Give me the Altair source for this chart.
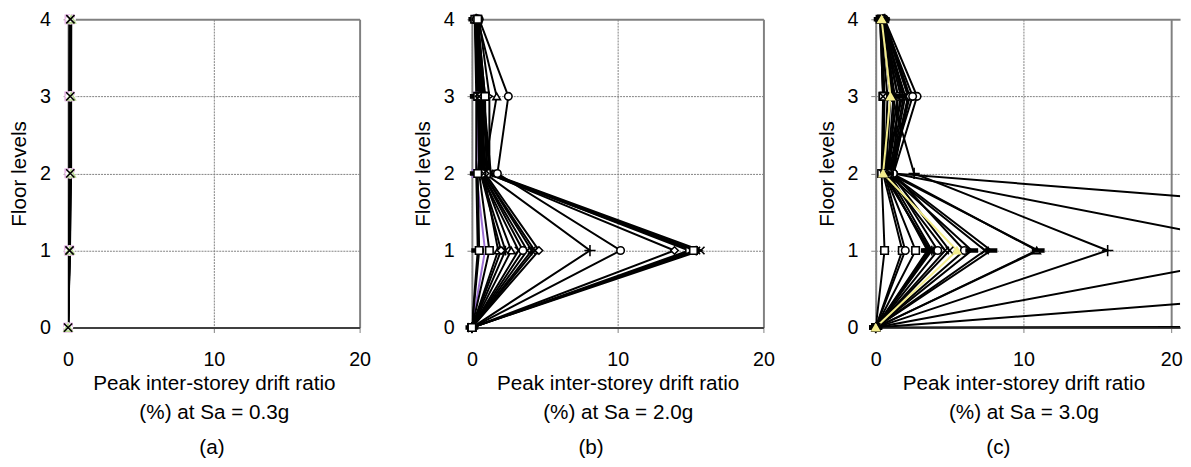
import altair as alt
import pandas as pd

floors = [0, 1, 2, 3, 4]
x_ticks = [0, 10, 20]
y_ticks = [0, 1, 2, 3, 4]

# ---------------- panel (a): Sa = 0.3g ----------------
a_shapes = ["square", "diamond", "triangle", "circle", "square", "diamond", "triangle", "x"]
a_colors = ["#000000", "#000000", "#000000", "#000000", "#000000", "#000000", "#000000", "#000000"]
a_marker_colors = ["#e8b8e8", "#b8d890", "#ffffff", "#ffffff", "#e8b8e8", "#ffffff", "#b8d890", "#000000"]
a_values = [
    [0.00, 0.05, 0.08, 0.08, 0.09],
    [0.00, 0.08, 0.10, 0.11, 0.12],
    [0.00, 0.10, 0.14, 0.14, 0.15],
    [0.00, 0.12, 0.18, 0.18, 0.19],
    [0.00, 0.09, 0.12, 0.12, 0.13],
    [0.00, 0.11, 0.16, 0.16, 0.17],
    [0.00, 0.13, 0.21, 0.21, 0.22],
    [0.00, 0.10, 0.15, 0.15, 0.16],
]

# ---------------- panel (b): Sa = 2.0g ----------------
b_shapes = ["circle", "triangle", "tri_right", "square", "plus", "diamond", "asterisk", "x",
            "square", "x", "asterisk", "diamond", "asterisk", "triangle", "x", "bar",
            "square", "diamond", "circle", "x", "square"]
b_colors = ["#000000", "#000000", "#000000", "#9b6fd4", "#000000", "#000000", "#000000", "#000000",
            "#000000", "#000000", "#000000", "#000000", "#000000", "#000000", "#000000", "#000000",
            "#000000", "#000000", "#000000", "#000000", "#000000"]
b_values = [
    [0.0, 10.2, 1.75, 2.5, 0.5],
    [0.0, 1.8, 0.8, 1.7, 0.4],
    [0.0, 14.9, 1.2, 1.2, 0.5],
    [0.0, 0.9, 0.3, 0.4, 0.3],
    [0.0, 8.1, 0.9, 0.6, 0.3],
    [0.0, 13.9, 1.1, 0.7, 0.4],
    [0.0, 15.4, 1.2, 0.8, 0.4],
    [0.0, 15.7, 1.3, 0.8, 0.3],
    [0.0, 15.2, 1.0, 0.9, 0.4],
    [0.0, 3.8, 0.7, 0.5, 0.3],
    [0.0, 4.1, 0.8, 0.6, 0.3],
    [0.0, 4.6, 0.9, 0.7, 0.4],
    [0.0, 2.3, 0.6, 0.5, 0.3],
    [0.0, 2.7, 0.7, 0.5, 0.2],
    [0.0, 3.2, 0.6, 0.4, 0.3],
    [0.0, 0.4, 0.3, 0.3, 0.2],
    [0.0, 1.2, 0.5, 0.4, 0.2],
    [0.0, 2.0, 0.6, 0.5, 0.3],
    [0.0, 3.5, 0.7, 0.6, 0.3],
    [0.0, 4.3, 0.8, 0.5, 0.3],
    [0.0, 0.5, 0.4, 0.9, 0.4],
]

# ---------------- panel (c): Sa = 3.0g ----------------
c_shapes = ["square", "square", "bar", "asterisk", "bar", "x", "circle", "x",
            "bar", "triangle", "bar", "plus", "circle", "circle", "x", "square", "x",
            "circle", "circle", "x", "bar", "triangle"]
c_colors = ["#000000", "#000000", "#000000", "#000000", "#000000", "#000000", "#000000", "#000000",
            "#000000", "#000000", "#000000", "#000000", "#000000", "#000000", "#000000", "#000000", "#000000",
            "#000000", "#000000", "#000000", "#000000", "#f3ec8c"]
c_values = [
    [0.0, 1.8, 0.5, 0.6, 0.4],
    [0.0, 2.7, 0.6, 0.5, 0.4],
    [0.0, 3.5, 0.7, 1.0, 0.4],
    [0.0, 3.8, 0.8, 1.2, 0.5],
    [0.0, 3.6, 0.6, 0.8, 0.3],
    [0.0, 4.7, 0.7, 1.5, 0.4],
    [0.0, 6.0, 1.2, 1.5, 0.5],
    [0.0, 7.4, 0.9, 1.9, 0.5],
    [0.0, 7.8, 1.0, 2.2, 0.5],
    [0.0, 10.9, 1.1, 2.3, 0.6],
    [0.0, 11.0, 0.9, 1.3, 0.5],
    [0.0, 15.7, 2.6, 1.1, 0.6],
    [0.0, 28.0, 1.2, 2.2, 0.5],
    [0.0, 67.0, 1.2, 2.8, 0.6],
    [0.0, 3000.0, 3000.0, 3000.0, 3000.0],
    [0.0, 0.6, 0.4, 0.5, 0.3],
    [0.0, 3.7, 0.5, 0.5, 0.3],
    [0.0, 2.0, 0.6, 1.8, 0.5],
    [0.0, 4.2, 0.9, 2.5, 0.5],
    [0.0, 5.0, 1.0, 2.0, 0.4],
    [0.0, 6.5, 0.8, 1.7, 0.4],
    [0.0, 5.5, 0.5, 1.0, 0.4],
]

# marker glyphs (style only)
SHAPE_PATHS = {
    "x": "M-1,-1L1,1M-1,1L1,-1",
    "asterisk": "M-1,-1L1,1M-1,1L1,-1M0,-1.3L0,1.3",
    "plus": "M-1.5,0L1.5,0M0,-1.5L0,1.5",
    "bar": "M-1.5,-0.4L1.5,-0.4L1.5,0.4L-1.5,0.4Z",
    "circle": "circle",
    "square": "square",
    "diamond": "diamond",
    "triangle": "triangle-up",
    "tri_right": "triangle-right",
}

FONT = "Liberation Sans"


def build_frame(shapes, colors, values, marker_colors=None):
    if marker_colors is None:
        marker_colors = colors
    rows = []
    for i, (shp, col, mcol, vals) in enumerate(zip(shapes, colors, marker_colors, values)):
        for fl, v in zip(floors, vals):
            if shp == "bar":
                fill = mcol
            elif col != "#000000" and shp == "triangle":
                fill = col
            else:
                fill = "#ffffff"
            rows.append({"series": i, "floor": fl, "drift": v, "shape": SHAPE_PATHS[shp],
                         "lc": col, "mc": mcol, "fill": fill})
    return pd.DataFrame(rows)


def panel(df, xmax, width, sa, letter, title_x=None, letter_dx=0, msize=58):
    xaxis_kw = dict(
        values=x_ticks,
        title=["Peak inter-storey drift ratio", f"(%) at Sa = {sa}"],
        gridDash={"condition": {"test": "datum.value == 20", "value": []}, "value": [2, 1]},
        gridWidth={"condition": {"test": "datum.value == 20", "value": 2}, "value": 1},
        gridColor="#808080",
    )
    if title_x is not None:
        xaxis_kw["titleX"] = title_x
    x = alt.X("drift:Q", scale=alt.Scale(domain=[0, xmax], nice=False, zero=False),
              axis=alt.Axis(**xaxis_kw))
    y = alt.Y("floor:Q", scale=alt.Scale(domain=[0, 4], nice=False),
              axis=alt.Axis(values=y_ticks, title="Floor levels", format="d",
                            gridDash={"condition": {"test": "datum.value == 4", "value": []}, "value": [2, 1]},
                            gridWidth={"condition": {"test": "datum.value == 4", "value": 2}, "value": 1},
                            gridColor="#808080"))
    base = alt.Chart(df)
    lines = base.mark_line(clip=True, strokeWidth=2).encode(
        x=x, y=y, detail="series:N", order="floor:Q",
        color=alt.Color("lc:N", scale=None),
    )
    pts = base.transform_filter(f"datum.drift <= {xmax}").mark_point(
        clip=False, filled=True, size=msize, strokeWidth=1.6, opacity=1
    ).encode(
        x=x, y=y,
        shape=alt.Shape("shape:N", scale=None),
        fill=alt.Fill("fill:N", scale=None),
        stroke=alt.Stroke("mc:N", scale=None),
    )
    return alt.layer(lines, pts).properties(
        width=width, height=313,
        title=alt.TitleParams(letter, orient="bottom", anchor="middle", dx=letter_dx,
                              fontSize=21, font=FONT, fontWeight="normal", offset=15),
    )


pa = panel(build_frame(a_shapes, a_colors, a_values, a_marker_colors), 20, 296, "0.3g", "(a)",
           letter_dx=-2, msize=70)
pb = panel(build_frame(b_shapes, b_colors, b_values), 20, 296, "2.0g", "(b)", letter_dx=-27)
pc = panel(build_frame(c_shapes, c_colors, c_values), 20.6, 309, "3.0g", "(c)", title_x=150, letter_dx=-30)

chart = alt.hconcat(pa, pb, pc, spacing=41).properties(
    padding={"left": 0, "top": -2, "right": 0, "bottom": 0}
).configure_view(stroke=None).configure_axis(
    labelFont=FONT, titleFont=FONT, labelFontSize=20, titleFontSize=21,
    titleFontWeight="normal", labelColor="#000000", titleColor="#000000",
    labelFlush=False, labelOverlap=False, tickSize=5, tickColor="#808080",
).configure_axisX(
    domainColor="#404040", domainWidth=2, labelPadding=18, titlePadding=3, titleLineHeight=29,
).configure_axisY(
    domainColor="#808080", domainWidth=2, labelPadding=13, titlePadding=10,
)

chart.save("out.html", embed_options={"renderer": "svg", "actions": False})
